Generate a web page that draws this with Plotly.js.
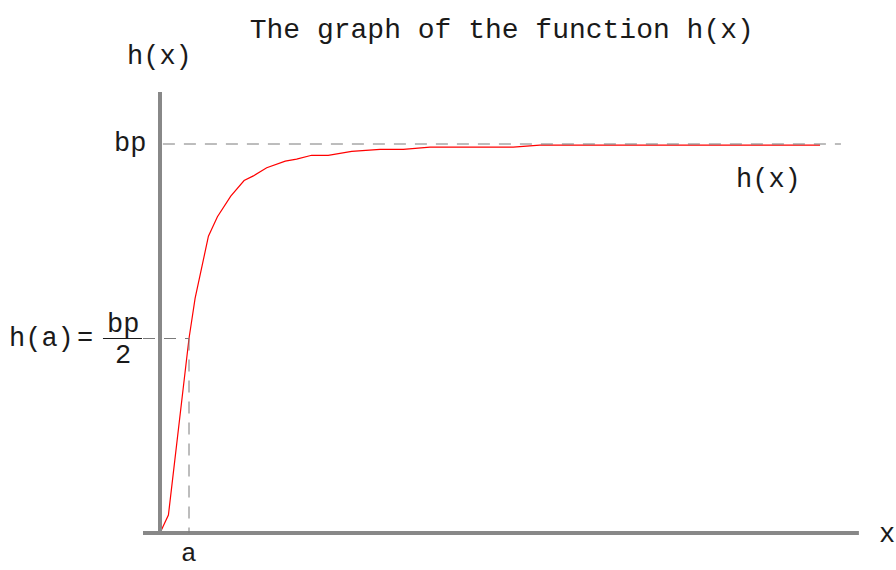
<!DOCTYPE html>
<html>
<head>
<meta charset="utf-8">
<script src="https://cdn.plot.ly/plotly-3.0.1.min.js"></script>
<style>
  html, body { margin: 0; padding: 0; background: #ffffff; }
  #chart { width: 896px; height: 570px; }
</style>
</head>
<body>
<div id="chart"></div>
<script>
// Saturating curve h(x): x measured in units of a, h in units of bp
const xValues = [0, 0.29, 1.0, 1.21, 1.67, 1.98, 2.44, 2.90, 3.22, 3.68, 4.32, 4.71, 5.23, 5.80, 6.61, 7.59, 8.39, 9.31, 12.18, 13.10, 22.76];
const hValues = [0, 0.046, 0.5, 0.603, 0.763, 0.813, 0.866, 0.906, 0.918, 0.939, 0.956, 0.961, 0.971, 0.971, 0.981, 0.986, 0.986, 0.992, 0.992, 0.997, 0.997];

// Marked quantities
const A = 1;      // x position a
const BP = 1;     // saturation level bp
const HALF = BP / 2;

// Visible window in data units
const xRange = [-5.517, 25.379];
const yRange = [-0.0951, 1.3702];

const monoFont = "'Courier New', Courier, 'Liberation Mono', monospace";
const textColor = '#1a1a1a';
const axisColor = '#888888';
const dashColor = '#7a7a7a';

const curve = {
  x: xValues,
  y: hValues,
  type: 'scatter',
  mode: 'lines',
  line: { color: '#ff0000', width: 1.2 },
  hoverinfo: 'skip',
  showlegend: false
};

const shapes = [
  // vertical axis
  { type: 'line', xref: 'x', yref: 'y', x0: 0, x1: 0, y0: -0.005, y1: 1.134,
    line: { color: axisColor, width: 4 } },
  // horizontal axis
  { type: 'line', xref: 'x', yref: 'y', x0: -0.586, x1: 24.1, y0: 0, y1: 0,
    line: { color: axisColor, width: 4 } },
  // level bp
  { type: 'line', xref: 'x', yref: 'y', x0: 0.1, x1: 23.48, y0: BP, y1: BP,
    line: { color: dashColor, width: 1, dash: '12px,9px' } },
  // level bp/2
  { type: 'line', xref: 'x', yref: 'y', x0: -0.586, x1: A, y0: HALF, y1: HALF,
    line: { color: dashColor, width: 1, dash: '12px,9px' } },
  // drop at x = a
  { type: 'line', xref: 'x', yref: 'y', x0: A, x1: A, y0: HALF, y1: 0,
    line: { color: dashColor, width: 1, dash: '12px,9px' } },
  // fraction bar of bp/2
  { type: 'line', xref: 'x', yref: 'y', x0: -1.966, x1: -0.621, y0: HALF, y1: HALF,
    line: { color: textColor, width: 1 } }
];

function label(text, x, y, size) {
  return {
    text: text, x: x, y: y, xref: 'x', yref: 'y',
    showarrow: false, xanchor: 'center', yanchor: 'middle',
    font: { family: monoFont, size: size || 27, color: textColor }
  };
}

const annotations = [
  label('h(x)', -0.03, 1.224),
  label('bp', -1.03, BP),
  label('h(x)', 20.99, 0.907),
  label('h(a)', -4.07, HALF),
  label('=', -2.59, HALF),
  label('bp', -1.29, 0.536),
  label('2', -1.29, 0.455),
  label('a', A, -0.054, 26),
  label('x', 25.07, -0.005)
];

const layout = {
  width: 896,
  height: 570,
  margin: { l: 0, r: 0, t: 0, b: 0 },
  paper_bgcolor: '#ffffff',
  plot_bgcolor: '#ffffff',
  title: {
    text: 'The graph of the function h(x)',
    font: { family: monoFont, size: 28, color: textColor },
    x: 0.56, xanchor: 'center',
    y: 0.951, yanchor: 'middle'
  },
  xaxis: { range: xRange, visible: false, fixedrange: true },
  yaxis: { range: yRange, visible: false, fixedrange: true },
  shapes: shapes,
  annotations: annotations,
  showlegend: false
};

Plotly.newPlot('chart', [curve], layout, { displayModeBar: false, staticPlot: true });
</script>
</body>
</html>
